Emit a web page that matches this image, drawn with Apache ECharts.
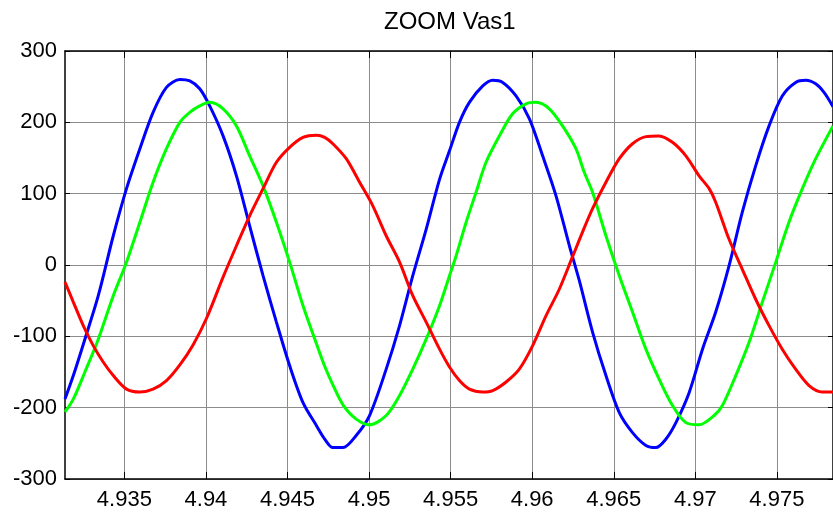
<!DOCTYPE html>
<html><head><meta charset="utf-8">
<script src="https://cdn.jsdelivr.net/npm/echarts@6/dist/echarts.min.js"></script>
<style>html,body{margin:0;padding:0;background:#fff}#c{width:833px;height:513px}</style>
</head><body><div id="c"></div>
<script>
const titleText = 'ZOOM Vas1';
const xTicks = [4.935, 4.94, 4.945, 4.95, 4.955, 4.96, 4.965, 4.97, 4.975];
const xMin = 4.93136, xMax = 4.97844;
const yMin = -300, yMax = 300, yStep = 100;

const blueTime = [4.93136,4.93187,4.93258,4.93340,4.93432,4.93513,4.93595,4.93676,4.93758,4.93840,4.93901,4.93962,4.94023,4.94105,4.94187,4.94268,4.94350,4.94432,4.94513,4.94595,4.94677,4.94728,4.94778,4.94840,4.94921,4.95003,4.95105,4.95187,4.95268,4.95350,4.95432,4.95493,4.95554,4.95615,4.95697,4.95758,4.95819,4.95901,4.95983,4.96064,4.96146,4.96228,4.96289,4.96370,4.96452,4.96534,4.96615,4.96697,4.96758,4.96820,4.96881,4.96962,4.97044,4.97125,4.97207,4.97288,4.97370,4.97452,4.97533,4.97615,4.97677,4.97738,4.97789,4.97844];
const blueValues = [-188,-155,-104,-43,41,107,163,214,249,260,258,247,223,181,125,55,-15,-80,-141,-193,-225,-244,-256,-256,-239,-211,-146,-85,-15,50,120,160,200,228,251,259,256,237,205,153,97,27,-22,-94,-155,-207,-235,-253,-256,-244,-221,-179,-118,-66,-1,74,139,195,237,256,259,254,242,222];

const greenTime = [4.93136,4.93187,4.93258,4.93340,4.93432,4.93513,4.93595,4.93676,4.93758,4.93840,4.93901,4.93962,4.94023,4.94105,4.94187,4.94268,4.94350,4.94432,4.94513,4.94595,4.94677,4.94728,4.94778,4.94840,4.94921,4.95003,4.95105,4.95187,4.95268,4.95350,4.95432,4.95493,4.95534,4.95595,4.95656,4.95717,4.95799,4.95880,4.95962,4.96024,4.96105,4.96186,4.96268,4.96319,4.96370,4.96452,4.96534,4.96615,4.96697,4.96778,4.96860,4.96942,4.97023,4.97115,4.97166,4.97248,4.97330,4.97411,4.97493,4.97574,4.97656,4.97738,4.97844];
const greenValues = [-206,-188,-150,-104,-43,4,60,116,163,200,214,223,228,219,195,153,111,60,4,-57,-110,-142,-168,-196,-216,-224,-211,-183,-146,-104,-57,-15,13,60,102,144,181,212,226,228,219,195,163,130,102,41,-15,-66,-118,-160,-197,-221,-224,-211,-197,-155,-108,-52,4,60,107,149,195];

const redTime = [4.93136,4.93187,4.93248,4.93309,4.93370,4.93432,4.93513,4.93595,4.93676,4.93758,4.93840,4.93921,4.94003,4.94105,4.94187,4.94268,4.94350,4.94432,4.94513,4.94595,4.94677,4.94728,4.94778,4.94860,4.94942,4.95023,4.95105,4.95187,4.95268,4.95350,4.95432,4.95493,4.95554,4.95615,4.95697,4.95758,4.95840,4.95921,4.96003,4.96085,4.96166,4.96248,4.96319,4.96370,4.96452,4.96534,4.96615,4.96697,4.96778,4.96860,4.96942,4.97023,4.97085,4.97125,4.97207,4.97288,4.97370,4.97452,4.97533,4.97615,4.97697,4.97778,4.97844];
const redValues = [-24,-52,-85,-113,-136,-155,-174,-178,-174,-162,-140,-112,-75,-17,27,69,107,144,165,179,182,179,170,149,116,83,41,4,-43,-80,-118,-143,-162,-174,-178,-176,-164,-146,-113,-71,-34,12,52,79,116,149,170,180,181,172,153,125,107,88,36,-6,-48,-85,-118,-146,-169,-178,-178];

const FONT = "'Liberation Sans', Arial, Helvetica, sans-serif";
const pair = (t, v) => t.map((x, i) => [x, v[i]]);
const fmt = v => String(parseFloat(v.toFixed(4)));

const chart = echarts.init(document.getElementById('c'), null, {renderer: 'canvas'});
const gridLine = {show: true, lineStyle: {color: '#8c8c8c', width: 1, type: 'solid'}};
const axisLine = {show: true, onZero: false, lineStyle: {color: '#000', width: 1.5}};

chart.setOption({
  animation: false,
  backgroundColor: '#fff',
  title: {text: titleText, left: 384, top: 10, padding: 0,
    textStyle: {fontFamily: FONT, fontSize: 24, fontWeight: 'normal', color: '#000'}},
  grid: {left: 65, right: -1, top: 51, bottom: 34, containLabel: false},
  xAxis: [{
    type: 'value', min: xMin, max: xMax, position: 'bottom',
    axisLine: axisLine,
    axisTick: {show: true, inside: true, length: 7, customValues: xTicks, lineStyle: {color: '#000', width: 1}},
    axisLabel: {show: true, customValues: xTicks, formatter: fmt, margin: 10,
      fontFamily: FONT, fontSize: 22, color: '#000'},
    splitLine: gridLine
  }, {
    type: 'value', min: xMin, max: xMax, position: 'top',
    axisLine: axisLine,
    axisTick: {show: true, inside: true, length: 7, customValues: xTicks, lineStyle: {color: '#000', width: 1}},
    axisLabel: {show: false},
    splitLine: {show: false}
  }],
  yAxis: [{
    type: 'value', min: yMin, max: yMax, interval: yStep, position: 'left',
    axisLine: axisLine,
    axisTick: {show: true, inside: true, length: 5, lineStyle: {color: '#000', width: 1}},
    axisLabel: {margin: 8, fontFamily: FONT, fontSize: 22, color: '#000'},
    splitLine: gridLine
  }, {
    type: 'value', min: yMin, max: yMax, interval: yStep, position: 'right',
    axisLine: axisLine,
    axisTick: {show: true, inside: true, length: 5, lineStyle: {color: '#000', width: 1}},
    axisLabel: {show: false},
    splitLine: {show: false}
  }],
  series: [
    {type: 'line', data: pair(blueTime, blueValues), showSymbol: false, smooth: 0.3,
      lineStyle: {color: '#0000ff', width: 3}, itemStyle: {color: '#0000ff'}},
    {type: 'line', data: pair(greenTime, greenValues), showSymbol: false, smooth: 0.3,
      lineStyle: {color: '#00ff00', width: 3}, itemStyle: {color: '#00ff00'}},
    {type: 'line', data: pair(redTime, redValues), showSymbol: false, smooth: 0.3,
      lineStyle: {color: '#ff0000', width: 3}, itemStyle: {color: '#ff0000'}}
  ]
});
</script></body></html>
